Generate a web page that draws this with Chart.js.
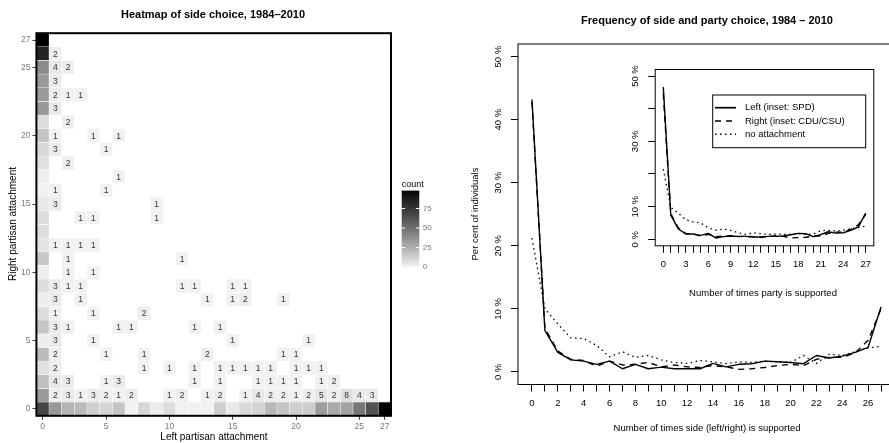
<!DOCTYPE html>
<html>
<head>
<meta charset="utf-8">
<script src="https://cdn.jsdelivr.net/npm/chart.js@4.4.1/dist/chart.umd.min.js"></script>
<style>
  html, body { margin: 0; padding: 0; background: #fff; overflow: hidden; }
  body { width: 889px; height: 443px; position: relative; font-family: 'Liberation Sans', Arial, sans-serif; }
  canvas { position: absolute; }
  .t { position: absolute; white-space: nowrap; width: 300px; height: 14px; line-height: 14px; text-align: center;
       transform: translate(-150px, -7px); color: #000; }
  .rot { transform: translate(-150px, -7px) rotate(-90deg); }
</style>
</head>
<body>
<canvas id="heat" width="440" height="443" style="left:0;top:0"></canvas>
<canvas id="freq" width="460" height="443" style="left:440px;top:0"></canvas>
<canvas id="inset" width="300" height="260" style="left:590px;top:50px"></canvas>

<div class="t" style="left:213px;top:14px;font-size:11px;font-weight:bold">Heatmap of side choice, 1984–2010</div>
<div class="t rot" style="left:13px;top:224px;font-size:10px">Right partisan attachment</div>
<div class="t" style="left:214px;top:437px;font-size:10px">Left partisan attachment</div>

<div class="t" style="left:707px;top:20px;font-size:11px;font-weight:bold">Frequency of side and party choice, 1984 – 2010</div>
<div class="t rot" style="left:475px;top:214px;font-size:9.5px">Per cent of individuals</div>
<div class="t" style="left:707px;top:428px;font-size:9.5px">Number of times side (left/right) is supported</div>
<div class="t" style="left:763px;top:293px;font-size:9.5px">Number of times party is supported</div>

<script>
const FONT = "'Liberation Sans', Arial, sans-serif";

// number of times (0..27)
const times = [0, 1, 2, 3, 4, 5, 6, 7, 8, 9, 10, 11, 12, 13, 14, 15, 16, 17, 18, 19, 20, 21, 22, 23, 24, 25, 26, 27];

// heatmap: rows are right attachment 27 (top) .. 0 (bottom), columns left attachment 0..27
const rightAttach = [27, 26, 25, 24, 23, 22, 21, 20, 19, 18, 17, 16, 15, 14, 13, 12, 11, 10, 9, 8, 7, 6, 5, 4, 3, 2, 1, 0];
const heatCounts = [
  [98, 0, 0, 0, 0, 0, 0, 0, 0, 0, 0, 0, 0, 0, 0, 0, 0, 0, 0, 0, 0, 0, 0, 0, 0, 0, 0, 0],
  [84, 2, 0, 0, 0, 0, 0, 0, 0, 0, 0, 0, 0, 0, 0, 0, 0, 0, 0, 0, 0, 0, 0, 0, 0, 0, 0, 0],
  [39, 4, 2, 0, 0, 0, 0, 0, 0, 0, 0, 0, 0, 0, 0, 0, 0, 0, 0, 0, 0, 0, 0, 0, 0, 0, 0, 0],
  [34, 3, 0, 0, 0, 0, 0, 0, 0, 0, 0, 0, 0, 0, 0, 0, 0, 0, 0, 0, 0, 0, 0, 0, 0, 0, 0, 0],
  [33, 2, 1, 1, 0, 0, 0, 0, 0, 0, 0, 0, 0, 0, 0, 0, 0, 0, 0, 0, 0, 0, 0, 0, 0, 0, 0, 0],
  [34, 3, 0, 0, 0, 0, 0, 0, 0, 0, 0, 0, 0, 0, 0, 0, 0, 0, 0, 0, 0, 0, 0, 0, 0, 0, 0, 0],
  [8, 0, 2, 0, 0, 0, 0, 0, 0, 0, 0, 0, 0, 0, 0, 0, 0, 0, 0, 0, 0, 0, 0, 0, 0, 0, 0, 0],
  [17, 1, 0, 0, 1, 0, 1, 0, 0, 0, 0, 0, 0, 0, 0, 0, 0, 0, 0, 0, 0, 0, 0, 0, 0, 0, 0, 0],
  [10, 3, 0, 0, 0, 1, 0, 0, 0, 0, 0, 0, 0, 0, 0, 0, 0, 0, 0, 0, 0, 0, 0, 0, 0, 0, 0, 0],
  [7, 0, 2, 0, 0, 0, 0, 0, 0, 0, 0, 0, 0, 0, 0, 0, 0, 0, 0, 0, 0, 0, 0, 0, 0, 0, 0, 0],
  [2, 0, 0, 0, 0, 0, 1, 0, 0, 0, 0, 0, 0, 0, 0, 0, 0, 0, 0, 0, 0, 0, 0, 0, 0, 0, 0, 0],
  [1, 1, 0, 0, 0, 1, 0, 0, 0, 0, 0, 0, 0, 0, 0, 0, 0, 0, 0, 0, 0, 0, 0, 0, 0, 0, 0, 0],
  [4, 3, 0, 0, 0, 0, 0, 0, 0, 1, 0, 0, 0, 0, 0, 0, 0, 0, 0, 0, 0, 0, 0, 0, 0, 0, 0, 0],
  [8, 0, 0, 1, 1, 0, 0, 0, 0, 1, 0, 0, 0, 0, 0, 0, 0, 0, 0, 0, 0, 0, 0, 0, 0, 0, 0, 0],
  [8, 0, 0, 0, 0, 0, 0, 0, 0, 0, 0, 0, 0, 0, 0, 0, 0, 0, 0, 0, 0, 0, 0, 0, 0, 0, 0, 0],
  [6, 1, 1, 1, 1, 0, 0, 0, 0, 0, 0, 0, 0, 0, 0, 0, 0, 0, 0, 0, 0, 0, 0, 0, 0, 0, 0, 0],
  [16, 0, 1, 0, 0, 0, 0, 0, 0, 0, 0, 1, 0, 0, 0, 0, 0, 0, 0, 0, 0, 0, 0, 0, 0, 0, 0, 0],
  [2, 0, 1, 0, 1, 0, 0, 0, 0, 0, 0, 0, 0, 0, 0, 0, 0, 0, 0, 0, 0, 0, 0, 0, 0, 0, 0, 0],
  [8, 3, 1, 1, 0, 0, 0, 0, 0, 0, 0, 1, 1, 0, 0, 1, 1, 0, 0, 0, 0, 0, 0, 0, 0, 0, 0, 0],
  [2, 3, 0, 1, 0, 0, 0, 0, 0, 0, 0, 0, 0, 1, 0, 1, 2, 0, 0, 1, 0, 0, 0, 0, 0, 0, 0, 0],
  [8, 1, 0, 0, 1, 0, 0, 0, 2, 0, 0, 0, 0, 0, 0, 0, 0, 0, 0, 0, 0, 0, 0, 0, 0, 0, 0, 0],
  [17, 3, 1, 0, 0, 0, 1, 1, 0, 0, 0, 0, 1, 0, 1, 0, 0, 0, 0, 0, 0, 0, 0, 0, 0, 0, 0, 0],
  [2, 3, 0, 0, 1, 0, 0, 0, 0, 0, 0, 0, 0, 0, 0, 1, 0, 0, 0, 0, 0, 1, 0, 0, 0, 0, 0, 0],
  [20, 2, 0, 0, 0, 1, 0, 0, 1, 0, 0, 0, 0, 2, 0, 0, 0, 0, 0, 1, 1, 0, 0, 0, 0, 0, 0, 0],
  [7, 2, 0, 0, 0, 0, 0, 0, 1, 0, 1, 0, 1, 0, 1, 1, 1, 1, 1, 0, 1, 1, 1, 0, 0, 0, 0, 0],
  [19, 4, 3, 0, 0, 1, 3, 0, 0, 0, 0, 0, 1, 0, 1, 0, 0, 1, 1, 1, 1, 0, 1, 2, 0, 0, 0, 0],
  [33, 2, 3, 1, 3, 2, 1, 2, 0, 0, 1, 2, 0, 1, 2, 0, 1, 4, 2, 2, 1, 2, 5, 2, 8, 4, 3, 0],
  [68, 34, 23, 21, 13, 11, 17, 1, 10, 3, 8, 1, 1, 1, 13, 4, 10, 11, 22, 17, 13, 14, 32, 27, 30, 47, 63, 98]
];
const heatMax = 98;
const heatTicks = [0, 5, 10, 15, 20, 25, 27];
const countTicks = [0, 25, 50, 75];

// side choice, per cent of individuals
const sideLeft  = [43.2, 6.6, 3.1, 1.9, 1.7, 1.2, 1.7, 0.5, 1.2, 0.5, 0.75, 0.5, 0.5, 0.5, 1.35, 0.8, 1.2, 1.3, 1.7, 1.6, 1.5, 1.3, 2.6, 2.2, 2.5, 3.1, 3.9, 10.3];
const sideRight = [42.8, 6.9, 3.3, 2.0, 1.8, 0.9, 1.7, 1.1, 1.2, 1.5, 0.8, 1.1, 0.8, 0.7, 1.0, 0.8, 0.4, 0.5, 0.7, 1.0, 1.2, 1.0, 2.0, 2.3, 2.3, 3.0, 5.0, 10.0];
const sideNone  = [21.2, 10.0, 7.6, 5.4, 5.3, 4.2, 2.4, 3.2, 2.3, 2.6, 1.9, 1.5, 1.35, 1.8, 1.6, 1.3, 1.6, 1.5, 1.7, 1.6, 1.5, 2.6, 1.35, 2.8, 2.6, 3.2, 3.8, 4.05];

// party choice (inset)
const partySPD  = [46.6, 7.4, 3.2, 1.6, 1.6, 1.2, 1.8, 0.4, 0.8, 1.0, 0.9, 0.9, 0.7, 0.7, 0.9, 0.9, 1.0, 1.4, 1.8, 1.7, 0.8, 1.4, 2.3, 1.9, 2.0, 2.7, 3.7, 8.0];
const partyCDU  = [44.5, 7.8, 3.5, 1.8, 1.6, 1.0, 1.5, 0.8, 1.0, 1.0, 0.8, 0.9, 0.8, 0.6, 0.9, 1.0, 0.9, 0.4, 0.5, 0.6, 1.0, 1.0, 1.8, 2.2, 2.2, 3.0, 4.4, 7.6];
const partyNone = [21.5, 9.8, 8.0, 6.0, 5.3, 5.0, 3.5, 2.8, 3.1, 2.7, 2.0, 1.5, 2.0, 1.7, 1.5, 1.6, 1.5, 1.5, 1.8, 1.5, 1.6, 2.6, 2.8, 2.5, 2.8, 3.2, 3.6, 4.0];

const pctTicks = [0, 10, 20, 30, 40, 50];
const pctTickLabels = ['0 %', '10 %', '20 %', '30 %', '40 %', '50 %'];
const insetPctLabels = ['0 %', '10 %', '', '30 %', '', '50 %'];
const sideTickLabels = ['0', '', '2', '', '4', '', '6', '', '8', '', '10', '', '12', '', '14', '', '16', '', '18', '', '20', '', '22', '', '24', '', '26', ''];
const partyTickLabels = ['0', '', '', '3', '', '', '6', '', '', '9', '', '', '12', '', '', '15', '', '', '18', '', '', '21', '', '', '24', '', '', '27'];
const legendLabels = ['Left (inset: SPD)', 'Right (inset: CDU/CSU)', 'no attachment'];

// grey level for a count, linear in lightness
function greyFor(n) {
  const L = 96 * (1 - Math.min(n, heatMax) / heatMax);
  const fy = (L + 16) / 116;
  const Y = L > 8 ? fy * fy * fy : L / 903.3;
  const c = Y <= 0.0031308 ? 12.92 * Y : 1.055 * Math.pow(Y, 1 / 2.4) - 0.055;
  const g = Math.round(255 * Math.max(0, Math.min(1, c)));
  return 'rgb(' + g + ',' + g + ',' + g + ')';
}

const cells = [];
rightAttach.forEach(function (r, i) {
  heatCounts[i].forEach(function (n, c) {
    if (n > 0) cells.push({ x: times[c], y: [r - 0.5, r + 0.5], n: n, r: r, c: times[c] });
  });
});

// panel border, cell labels and the colour bar
const heatDecor = {
  id: 'heatDecor',
  afterDraw: function (chart) {
    const ctx = chart.ctx, a = chart.chartArea;
    const xs = chart.scales.x, ys = chart.scales.y;
    ctx.save();
    ctx.font = '8.5px ' + FONT;
    ctx.fillStyle = '#333';
    ctx.textAlign = 'center';
    ctx.textBaseline = 'middle';
    cells.forEach(function (d) {
      if (d.r > 0 && d.c > 0) ctx.fillText(String(d.n), xs.getPixelForValue(d.c), ys.getPixelForValue(d.r) + 0.5);
    });
    ctx.strokeStyle = '#000';
    ctx.lineWidth = 2;
    ctx.strokeRect(a.left, a.top, a.right - a.left, a.bottom - a.top);

    // colour bar
    const bx = 401.7, bw = 17.6, bBottom = 267, bTop = 190.6;
    const grad = ctx.createLinearGradient(0, bBottom, 0, bTop);
    for (let v = 0; v <= heatMax; v += 2) grad.addColorStop(v / heatMax, greyFor(v));
    ctx.fillStyle = grad;
    ctx.fillRect(bx, bTop, bw, bBottom - bTop);
    ctx.strokeStyle = '#fff';
    ctx.lineWidth = 1;
    ctx.font = '8px ' + FONT;
    ctx.textAlign = 'left';
    countTicks.forEach(function (v) {
      const y = bBottom - v / heatMax * (bBottom - bTop);
      ctx.beginPath();
      ctx.moveTo(bx, y); ctx.lineTo(bx + 3.5, y);
      ctx.moveTo(bx + bw - 3.5, y); ctx.lineTo(bx + bw, y);
      ctx.stroke();
      ctx.fillStyle = '#7a7a7a';
      ctx.fillText(String(v), bx + bw + 3.5, y);
    });
    ctx.fillStyle = '#000';
    ctx.font = '9px ' + FONT;
    ctx.fillText('count', bx, 184.5);
    ctx.restore();
  }
};

new Chart(document.getElementById('heat'), {
  type: 'bar',
  data: {
    datasets: [{
      data: cells,
      backgroundColor: function (c) { return greyFor(c.raw ? c.raw.n : 0); },
      borderColor: '#fff',
      borderWidth: 0.5,
      borderSkipped: false,
      barPercentage: 1,
      categoryPercentage: 1
    }]
  },
  options: {
    responsive: false,
    animation: false,
    layout: { padding: { top: 33.2, right: 49, left: 0, bottom: 0 } },
    plugins: { legend: { display: false }, tooltip: { enabled: false } },
    scales: {
      x: {
        type: 'linear', min: -0.5, max: 27.5, offset: false,
        afterBuildTicks: function (s) { s.ticks = heatTicks.map(function (v) { return { value: v }; }); },
        afterFit: function (s) { s.height = 27.2; },
        grid: { drawOnChartArea: false, drawTicks: true, tickLength: 4, color: '#444', offset: false },
        border: { display: false },
        ticks: { autoSkip: false, maxRotation: 0, minRotation: 0, padding: 2, color: '#7a7a7a', font: { family: FONT, size: 8.5 },
          callback: function (v) { return String(v); } }
      },
      y: {
        type: 'linear', min: -0.5, max: 27.5, beginAtZero: false,
        afterBuildTicks: function (s) { s.ticks = heatTicks.map(function (v) { return { value: v }; }); },
        afterFit: function (s) { s.width = 36.4; },
        grid: { drawOnChartArea: false, drawTicks: true, tickLength: 4, color: '#444' },
        border: { display: false },
        ticks: { padding: 2, color: '#7a7a7a', font: { family: FONT, size: 8.5 },
          callback: function (v) { return String(v); } }
      }
    }
  },
  plugins: [heatDecor]
});

// base-graphics look: box and rotated y labels
function rDecor(yLabels, withLegend) {
  return {
    id: 'rDecor',
    afterDraw: function (chart) {
      const ctx = chart.ctx, a = chart.chartArea, ys = chart.scales.y;
      ctx.save();
      ctx.strokeStyle = '#000';
      ctx.lineWidth = 1;
      ctx.strokeRect(a.left, a.top, a.right - a.left, a.bottom - a.top);
      ctx.fillStyle = '#000';
      ctx.font = '9.5px ' + FONT;
      ctx.textAlign = 'center';
      ctx.textBaseline = 'middle';
      pctTicks.forEach(function (v, i) {
        if (!yLabels[i]) return;
        ctx.save();
        ctx.translate(a.left - 19.5, ys.getPixelForValue(v));
        ctx.rotate(-Math.PI / 2);
        ctx.fillText(yLabels[i], 0, 0);
        ctx.restore();
      });
      if (withLegend) {
        const x0 = 122.7, y0 = 45, x1 = 275.7, y1 = 97.7;
        const rows = [57.7, 71, 84.3];
        ctx.strokeRect(x0, y0, x1 - x0, y1 - y0);
        ctx.textAlign = 'left';
        chart.data.datasets.forEach(function (ds, i) {
          ctx.beginPath();
          ctx.setLineDash(ds.borderDash);
          ctx.lineWidth = ds.borderWidth + 0.3;
          ctx.moveTo(125, rows[i]);
          ctx.lineTo(146, rows[i]);
          ctx.stroke();
          ctx.setLineDash([]);
          ctx.fillText(legendLabels[i], 155, rows[i]);
        });
      }
      ctx.restore();
    }
  };
}

function rOptions(xLabels, pad, yWidth, xHeight) {
  return {
    responsive: false,
    animation: false,
    layout: { padding: pad },
    plugins: { legend: { display: false }, tooltip: { enabled: false } },
    elements: { point: { radius: 0 }, line: { tension: 0, fill: false } },
    scales: {
      x: {
        type: 'linear', min: -1.08, max: 28.08, offset: false,
        afterBuildTicks: function (s) { s.ticks = times.map(function (v) { return { value: v }; }); },
        afterFit: function (s) { s.height = xHeight; },
        grid: { drawOnChartArea: false, drawTicks: true, tickLength: 7, color: '#000' },
        border: { display: false },
        ticks: { autoSkip: false, maxRotation: 0, minRotation: 0, padding: 6, color: '#000', font: { family: FONT, size: 9.5 },
          callback: function (v, i) { return xLabels[i]; } }
      },
      y: {
        type: 'linear', min: -2, max: 52,
        afterBuildTicks: function (s) { s.ticks = pctTicks.map(function (v) { return { value: v }; }); },
        afterFit: function (s) { s.width = yWidth; },
        grid: { drawOnChartArea: false, drawTicks: true, tickLength: 7, color: '#000' },
        border: { display: false },
        ticks: { display: false }
      }
    }
  };
}

function series(vals, dash, w) {
  return {
    data: times.map(function (t, i) { return { x: t, y: vals[i] }; }),
    borderColor: '#000', borderWidth: w, borderDash: dash,
    borderJoinStyle: 'round', borderCapStyle: 'butt'
  };
}

new Chart(document.getElementById('freq'), {
  type: 'line',
  data: { datasets: [series(sideLeft, [], 1.4), series(sideRight, [6, 5], 1.4), series(sideNone, [1.5, 3.5], 1.3)] },
  options: rOptions(sideTickLabels, { top: 44, right: 5, left: 0, bottom: 0 }, 78, 58.5),
  plugins: [rDecor(pctTickLabels, false)]
});

new Chart(document.getElementById('inset'), {
  type: 'line',
  data: { datasets: [series(partySPD, [], 1.4), series(partyCDU, [6, 5], 1.4), series(partyNone, [1.5, 3.5], 1.3)] },
  options: rOptions(partyTickLabels, { top: 19.5, right: 16.2, left: 0, bottom: 0 }, 65.2, 64.2),
  plugins: [rDecor(insetPctLabels, true)]
});
</script>
</body>
</html>
